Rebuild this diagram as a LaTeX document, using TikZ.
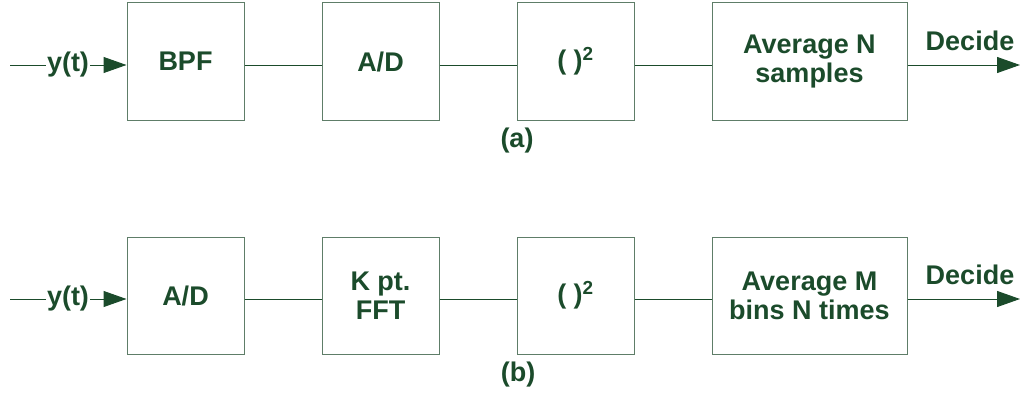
\documentclass[tikz,border=0pt]{standalone}
\usepackage{fontspec}
\setmainfont{Liberation Sans}
\usetikzlibrary{arrows.meta}
\definecolor{ink}{HTML}{1B4B2B}
\definecolor{edge}{HTML}{5E7D68}

\begin{document}
\begin{tikzpicture}[x=1pt,y=1pt,
  blk/.style={draw=edge,line width=1pt,minimum width=117pt,minimum height=117pt,
    inner sep=0pt,align=center,text=ink,font=\bfseries\fontsize{27}{29}\selectfont},
  wide/.style={blk,minimum width=195pt},
  lbl/.style={text=ink,font=\bfseries\fontsize{27}{29}\selectfont,inner sep=1pt},
  wire/.style={draw=ink,line width=1pt},
  sig/.style={wire,-{Triangle[length=23pt,width=16pt]}}]
\useasboundingbox (0,0) rectangle (1020,392);

% (a)
\coordinate (ina) at (10,327);
\coordinate (outa) at (1020,327);
\node at (185.5,330.5) [blk] (bpfa) {BPF};
\node at (380.5,330.5) [blk] (ada) {A/D};
\node at (575.5,330.5) [blk] (sqa) {( )\textsuperscript{2}};
\node at (809.5,330.5) [wide] (avga) {Average N\\samples};
\node at (68,327) [lbl] (ya) {y(t)};
\node at (970,351) [lbl] (deca) {Decide};
\node at (517,251) [lbl] (capa) {(a)};

\draw[wire] (ina) -- (ya.west);
\draw[sig] (ya.east) -- (bpfa.west |- ina);
\draw[wire] (bpfa.east |- ina) -- (ada.west |- ina);
\draw[wire] (ada.east |- ina) -- (sqa.west |- ina);
\draw[wire] (sqa.east |- ina) -- (avga.west |- ina);
\draw[sig] (avga.east |- ina) -- (outa);

% (b)
\coordinate (inb) at (10,93);
\coordinate (outb) at (1020,93);
\node at (185.5,96.5) [blk] (adb) {A/D};
\node at (380.5,96.5) [blk] (fftb) {K pt.\\FFT};
\node at (575.5,96.5) [blk] (sqb) {( )\textsuperscript{2}};
\node at (809.5,96.5) [wide] (avgb) {Average M\\bins N times};
\node at (68,93) [lbl] (yb) {y(t)};
\node at (970,117) [lbl] (decb) {Decide};
\node at (518,17) [lbl] (capb) {(b)};

\draw[wire] (inb) -- (yb.west);
\draw[sig] (yb.east) -- (adb.west |- inb);
\draw[wire] (adb.east |- inb) -- (fftb.west |- inb);
\draw[wire] (fftb.east |- inb) -- (sqb.west |- inb);
\draw[wire] (sqb.east |- inb) -- (avgb.west |- inb);
\draw[sig] (avgb.east |- inb) -- (outb);
\end{tikzpicture}
\end{document}
